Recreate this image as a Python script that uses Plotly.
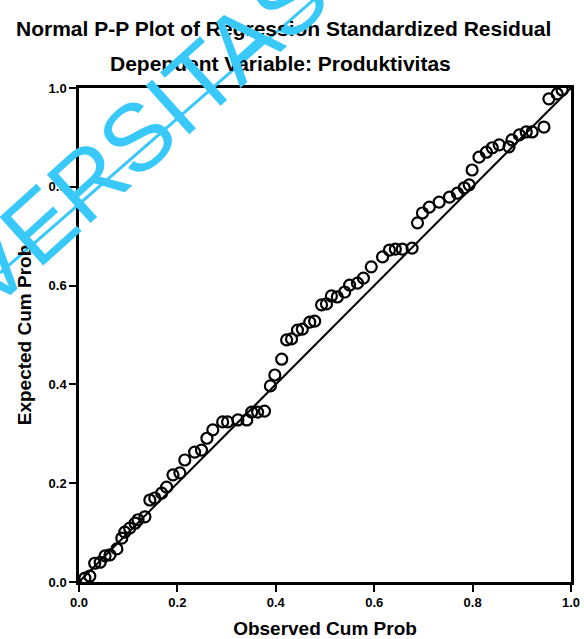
import plotly.graph_objects as go

# Observed cumulative probability (x) and expected cumulative probability (y)
observed = [0.012, 0.022, 0.032, 0.043, 0.053, 0.063, 0.077, 0.087, 0.093, 0.103,
            0.114, 0.120, 0.134, 0.144, 0.154, 0.168, 0.178, 0.191, 0.205, 0.215,
            0.235, 0.249, 0.260, 0.272, 0.292, 0.302, 0.323, 0.341, 0.351, 0.363,
            0.377, 0.389, 0.398, 0.412, 0.422, 0.432, 0.444, 0.454, 0.469, 0.479,
            0.493, 0.503, 0.513, 0.525, 0.540, 0.550, 0.566, 0.578, 0.594, 0.617,
            0.631, 0.643, 0.657, 0.677, 0.688, 0.698, 0.712, 0.732, 0.753, 0.769,
            0.783, 0.793, 0.799, 0.813, 0.828, 0.840, 0.854, 0.874, 0.880, 0.895,
            0.909, 0.921, 0.945, 0.955, 0.972, 0.982]
expected = [0.008, 0.012, 0.038, 0.040, 0.053, 0.055, 0.067, 0.089, 0.101, 0.109,
            0.119, 0.126, 0.132, 0.166, 0.170, 0.180, 0.192, 0.217, 0.221, 0.247,
            0.263, 0.267, 0.291, 0.308, 0.324, 0.324, 0.328, 0.328, 0.344, 0.344,
            0.346, 0.397, 0.419, 0.451, 0.490, 0.492, 0.510, 0.512, 0.526, 0.528,
            0.561, 0.563, 0.579, 0.577, 0.587, 0.601, 0.605, 0.615, 0.638, 0.658,
            0.672, 0.674, 0.674, 0.676, 0.727, 0.747, 0.759, 0.769, 0.779, 0.787,
            0.798, 0.804, 0.834, 0.860, 0.870, 0.879, 0.885, 0.881, 0.895, 0.905,
            0.911, 0.911, 0.921, 0.978, 0.988, 0.996]
ref_line = [0.0, 1.0]
tick_vals = [0.0, 0.2, 0.4, 0.6, 0.8, 1.0]
tick_text = ["0.0", "0.2", "0.4", "0.6", "0.8", "1.0"]

title_1 = "Normal P-P Plot of Regression Standardized Residual"
title_2 = "Dependent Variable: Produktivitas"
x_title = "Observed Cum Prob"
y_title = "Expected Cum Prob"
watermark = "VERSITAS"

BOLD = "Liberation Sans, Arial, sans-serif"
CYAN = "#38C8FA"

fig = go.Figure()
fig.add_trace(go.Scatter(x=ref_line, y=ref_line, mode="lines",
                         line=dict(color="black", width=2), hoverinfo="skip",
                         showlegend=False))
fig.add_trace(go.Scatter(x=observed, y=expected, mode="markers",
                         marker=dict(symbol="circle-open", size=11,
                                     color="black", line=dict(width=2.2)),
                         showlegend=False))

axis_common = dict(range=[0, 1], tickvals=tick_vals, ticktext=tick_text,
                   showgrid=False, zeroline=False, showline=True,
                   linecolor="black", linewidth=2.5, mirror=True, automargin=False,
                   ticks="outside", ticklen=7, tickwidth=2, tickcolor="black",
                   tickfont=dict(family=BOLD, size=13, color="black", weight="bold"))

fig.update_layout(
    width=584, height=639,
    margin=dict(l=79, r=13, t=88, b=57),
    paper_bgcolor="white", plot_bgcolor="white",
    xaxis=dict(**axis_common,
               title=dict(text="<b>" + x_title + "</b>", standoff=18,
                          font=dict(family=BOLD, size=19, color="black"))),
    yaxis=dict(**axis_common,
               title=dict(text="<b>" + y_title + "</b>", standoff=12,
                          font=dict(family=BOLD, size=19, color="black"))),
    annotations=[
        dict(text="<b>" + title_1 + "</b>", xref="paper", yref="paper",
             x=0.415, y=1.121, showarrow=False, xanchor="center", yanchor="middle",
             font=dict(family=BOLD, size=21, color="black")),
        dict(text="<b>" + title_2 + "</b>", xref="paper", yref="paper",
             x=0.409, y=1.049, showarrow=False, xanchor="center", yanchor="middle",
             font=dict(family=BOLD, size=21, color="black")),
        dict(text=watermark, xref="paper", yref="paper",
             x=0.124, y=0.907, showarrow=False, xanchor="center", yanchor="middle",
             textangle=-42, font=dict(family="Liberation Sans, Arial, sans-serif",
                                      size=95, color=CYAN)),
    ],
    shapes=[
        dict(type="line", xref="paper", yref="paper",
             x0=-0.1606, y0=0.6255, x1=0.49, y1=1.19,
             line=dict(color=CYAN, width=3)),
    ],
)

fig.write_html("out.html")
